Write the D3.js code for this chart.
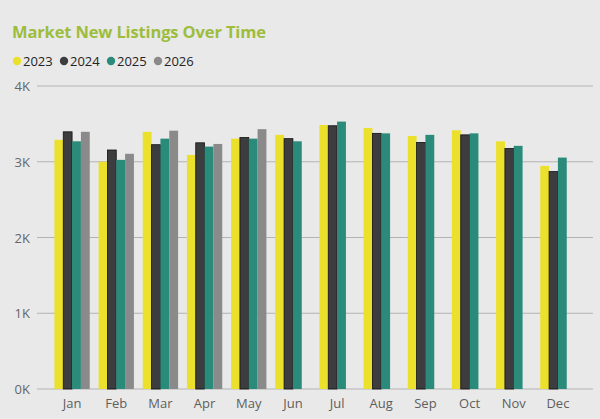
<!DOCTYPE html>
<html>
<head>
<meta charset="utf-8">
<script src="https://cdn.jsdelivr.net/npm/d3@7"></script>
<style>
  body { margin: 0; background: #e9e9e9; }
  svg { display: block; font-family: "Open Sans", "Noto Sans", sans-serif; }
</style>
</head>
<body>
<div id="chart"></div>
<script>
// Data
const months = ["Jan", "Feb", "Mar", "Apr", "May", "Jun", "Jul", "Aug", "Sep", "Oct", "Nov", "Dec"];
const years = ["2023", "2024", "2025", "2026"];
const listings2023 = [3290, 3000, 3395, 3090, 3305, 3355, 3485, 3445, 3340, 3415, 3270, 2945];
const listings2024 = [3395, 3155, 3225, 3250, 3320, 3305, 3475, 3375, 3255, 3355, 3175, 2870];
const listings2025 = [3270, 3025, 3305, 3200, 3305, 3270, 3530, 3375, 3355, 3375, 3210, 3055];
const listings2026 = [3395, 3105, 3410, 3235, 3430, null, null, null, null, null, null, null];
const yTicks = [0, 1000, 2000, 3000, 4000];

const seriesValues = [listings2023, listings2024, listings2025, listings2026];
const colors = ["#ebe02b", "#3d3d3f", "#2a8b7a", "#8a8a8a"];

const width = 600, height = 419;

const svg = d3.select("#chart")
    .append("svg")
    .attr("width", width)
    .attr("height", height);

// Title
svg.append("text")
    .attr("x", 12)
    .attr("y", 38)
    .attr("fill", "#9dbd3b")
    .attr("font-size", 16.5)
    .attr("font-weight", "bold")
    .attr("textLength", 254)
    .text("Market New Listings Over Time");

// Legend
let lx = 13;
years.forEach((yr, i) => {
    svg.append("circle")
        .attr("cx", lx + 4)
        .attr("cy", 61)
        .attr("r", 4.2)
        .attr("fill", colors[i]);
    svg.append("text")
        .attr("x", lx + 10)
        .attr("y", 66)
        .attr("font-size", 13)
        .attr("fill", "#252423")
        .text(yr);
    lx += 47;
});

// Scales
const x = d3.scaleBand()
    .domain(months)
    .range([50, 580])
    .paddingInner(0.2)
    .paddingOuter(0.1);

const x1 = d3.scaleBand()
    .domain(years)
    .range([0, x.bandwidth()]);

const y = d3.scaleLinear()
    .domain([0, 4000])
    .range([389, 86]);

// Grid lines
svg.append("g")
    .selectAll("line")
    .data(yTicks)
    .enter().append("line")
    .attr("x1", 37)
    .attr("x2", 593)
    .attr("y1", d => y(d))
    .attr("y2", d => y(d))
    .attr("stroke", "#b3b3b3")
    .attr("stroke-width", 1);

// Y axis labels
svg.append("g")
    .selectAll("text")
    .data(yTicks)
    .enter().append("text")
    .attr("x", 30)
    .attr("y", d => y(d) + 5)
    .attr("text-anchor", "end")
    .attr("font-size", 13)
    .attr("fill", "#666666")
    .text(d => (d / 1000) + "K");

// Bars
const rows = [];
months.forEach((m, mi) => {
    years.forEach((yr, yi) => {
        const v = seriesValues[yi][mi];
        if (v != null) rows.push({ month: m, year: yr, value: v, idx: yi });
    });
});

svg.append("g")
    .selectAll("rect")
    .data(rows)
    .enter().append("rect")
    .attr("x", d => x(d.month) + x1(d.year))
    .attr("y", d => y(d.value))
    .attr("width", x1.bandwidth())
    .attr("height", d => y(0) - y(d.value))
    .attr("fill", d => colors[d.idx])
    .attr("stroke", d => d.idx === 1 ? "#111111" : "none")
    .attr("stroke-width", 0.8);

// X axis labels
svg.append("g")
    .selectAll("text")
    .data(months)
    .enter().append("text")
    .attr("x", d => x(d) + x.bandwidth() / 2)
    .attr("y", 408)
    .attr("text-anchor", "middle")
    .attr("font-size", 13)
    .attr("fill", "#605e5c")
    .text(d => d);
</script>
</body>
</html>
